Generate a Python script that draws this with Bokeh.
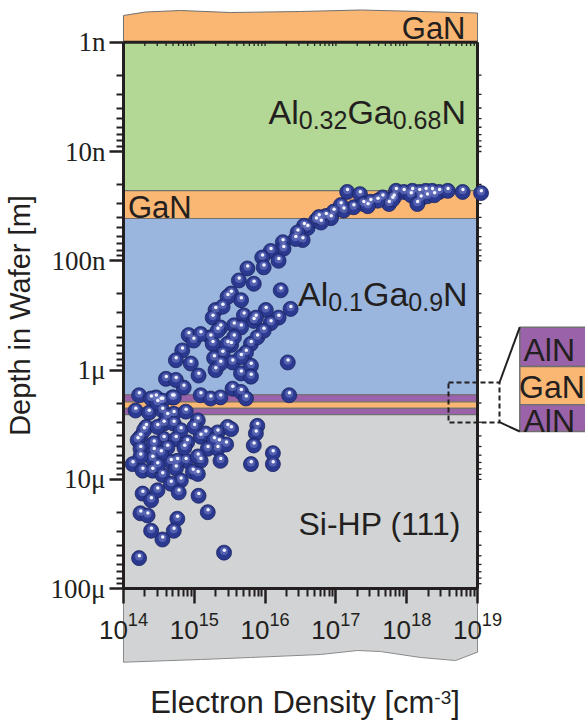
import numpy as np
from bokeh.plotting import figure
from bokeh.models import Range1d, FixedTicker
from bokeh.embed import file_html
from bokeh.resources import INLINE
from bokeh.core.properties import value

# ---------------- data ----------------
# log10 of electron density [cm^-3] and log10 of depth in wafer [m]
log10_density = [
    17.16, 17.34, 17.85, 17.96, 18.08, 18.18, 18.27, 18.36, 18.46, 18.58, 18.79, 19.05,
    17.82, 18.06, 18.20, 18.29, 18.39, 17.75, 18.15, 17.80, 17.66,
    16.53, 16.60, 16.72, 16.86, 16.97, 17.11, 17.25, 17.39, 17.49, 17.59, 17.07, 17.45, 16.93, 16.79,
    16.76, 16.55, 16.46, 16.43, 16.25, 16.26, 16.08, 16.19, 15.96, 15.98, 15.75, 15.63, 15.84, 15.52,
    16.22, 15.66, 16.01, 16.36, 16.19, 15.30, 15.26, 15.40, 15.70, 15.84, 15.56, 16.08,
    15.37, 15.23, 14.92, 14.99, 14.83, 14.74, 14.95, 15.06, 15.26, 15.52, 15.40, 15.28, 15.30, 15.54,
    15.80, 15.89, 15.98, 15.73, 15.66, 15.80, 15.80, 16.32, 16.34, 15.54, 15.66, 15.73, 15.09, 15.23,
    15.37, 14.85, 14.69, 14.60, 14.74, 14.53, 14.46,
    15.33, 15.47, 15.66, 15.47, 15.09, 15.87, 15.66, 15.56, 15.37,
    14.22, 14.17, 14.39, 14.36, 14.55, 14.55, 14.71, 14.71, 14.88, 14.32, 14.24, 14.20, 14.57, 15.05,
    15.33, 15.47, 15.35, 14.24, 14.43, 14.57, 14.74, 14.90, 15.09, 15.19, 15.33, 14.41, 14.67, 14.88,
    15.09, 15.37, 14.13, 14.27, 14.41, 14.55, 14.74, 14.98, 15.05,
    14.48, 14.62, 14.29, 14.48, 14.71, 14.81, 15.00, 15.16, 15.52, 14.43, 14.62, 14.86, 15.28, 14.24,
    14.53, 14.76, 15.05,
    14.48, 14.81, 15.80, 16.11, 14.27, 14.39, 14.48, 14.67, 14.78, 15.06, 15.19, 14.24, 14.34, 14.76,
    14.39, 14.71, 14.55, 15.42, 14.22,
    15.89, 15.87, 15.84, 16.11, 15.45,
]
log10_depth = [
    -7.63, -7.61, -7.64, -7.63, -7.64, -7.63, -7.64, -7.64, -7.63, -7.64, -7.63, -7.62,
    -7.58, -7.60, -7.57, -7.59, -7.60, -7.52, -7.52, -7.56, -7.58,
    -7.19, -7.30, -7.37, -7.41, -7.45, -7.46, -7.49, -7.52, -7.54, -7.55, -7.51, -7.50, -7.39, -7.35,
    -7.40, -7.32, -7.26, -7.20, -7.17, -7.11, -7.09, -7.00, -7.03, -6.94, -6.93, -6.82, -6.79, -6.70,
    -6.73, -6.64, -6.55, -6.56, -6.48, -6.55, -6.48, -6.58, -6.50, -6.45, -6.41, -6.43,
    -6.39, -6.30, -6.32, -6.27, -6.18, -6.09, -6.06, -5.95, -6.24, -6.23, -6.15, -6.11, -6.00, -6.07,
    -6.24, -6.30, -6.36, -6.16, -5.97, -6.04, -5.94, -6.07, -5.77, -5.83, -5.80, -5.74, -5.77, -5.74,
    -5.75, -5.84, -5.75, -5.92, -5.91, -5.72, -5.75,
    -6.36, -6.24, -6.12, -6.67, -6.33, -6.48, -6.39, -6.30, -6.06,
    -5.77, -5.63, -5.74, -5.61, -5.72, -5.63, -5.75, -5.60, -5.62, -5.48, -5.39, -5.36, -5.51, -5.54,
    -5.43, -5.48, -5.34, -5.28, -5.26, -5.37, -5.37, -5.34, -5.39, -5.28, -5.28, -5.19, -5.16, -5.17,
    -5.17, -5.17, -5.14, -5.08, -5.08, -5.04, -5.10, -5.07, -5.05,
    -5.70, -5.58, -5.45, -5.48, -5.51, -5.45, -5.48, -5.42, -5.46, -5.33, -5.29, -5.29, -5.36, -5.21,
    -5.24, -5.17, -5.21,
    -5.13, -4.99, -5.14, -5.14, -4.87, -4.81, -4.90, -4.96, -4.88, -4.85, -4.70, -4.69, -4.67, -4.64,
    -4.53, -4.53, -4.45, -4.33, -4.28,
    -5.49, -5.42, -5.31, -5.24, -5.32,
]

# wafer layers (depth in m)
layer_names = ["Al0.32Ga0.68N", "GaN", "Al0.1Ga0.9N", "AlN", "GaN", "AlN", "Si-HP (111)"]
layer_top = [1e-9, 2.28e-8, 4.10e-8, 1.68e-6, 1.95e-6, 2.24e-6, 2.55e-6]
layer_bottom = [2.28e-8, 4.10e-8, 1.68e-6, 1.95e-6, 2.24e-6, 2.55e-6, 1e-4]
cap_name = "GaN"

x_ticks = [1e14, 1e15, 1e16, 1e17, 1e18, 1e19]
y_ticks = [1e-9, 1e-8, 1e-7, 1e-6, 1e-5, 1e-4]
y_tick_labels = ["1n", "10n", "100n", "1μ", "10μ", "100μ"]

# ---------------- styling / layout ----------------
INK = "#231f20"
C_GAN, C_ALGAN32, C_ALGAN10, C_ALN, C_SI = "#fab673", "#b3d794", "#9ab5de", "#9a62a8", "#d1d3d4"
layer_colors = [C_ALGAN32, C_GAN, C_ALGAN10, C_ALN, C_GAN, C_ALN, C_SI]
EDGE = "#707070"
SANS = "Liberation Sans"
SERIF = "Liberation Serif"

FIG_W, FIG_H = 585, 722
AX_LEFT = 123                            # pixel column of 1e14
PX_X, PX_Y = 70.8, 109.3                 # pixels per decade
Y_TOP = -9.0 - 41.7 / PX_Y               # 1 nm sits 41.7 px below the top
Y_BOT = Y_TOP + FIG_H / PX_Y
BASE_FIX = 0.3                            # text baseline correction (em)


def xd(X):  # pixel -> data x (for placing decorations / texts)
    return 10 ** (14.0 + (X - AX_LEFT) / PX_X)


def yd(Y):  # pixel -> data y
    return 10 ** (Y_TOP + Y / PX_Y)


p = figure(width=FIG_W, height=FIG_H, x_axis_type="log", y_axis_type="log",
           x_range=Range1d(xd(0), xd(FIG_W)),
           y_range=Range1d(10 ** Y_BOT, 10 ** Y_TOP),
           output_backend="svg", toolbar_location=None,
           min_border_left=0, min_border_right=0, min_border_top=0, min_border_bottom=0)
p.outline_line_color = None
p.grid.visible = False
p.background_fill_color = "white"
p.border_fill_color = "white"

XL, XR = x_ticks[0], x_ticks[-1]
x_minor = [m * t for t in x_ticks[:-1] for m in range(2, 10)]
y_minor = [m * t for t in y_ticks[:-1] for m in range(2, 10)]

# top GaN cap with a wavy upper edge
cap_X = [145, 180, 230, 300, 360, 420]
cap_Y = [11.5, 10.0, 12.0, 11.0, 9.5, 11.0]
cap_xs = [XL] + [xd(v) for v in cap_X] + [XR, XR, XL]
cap_ys = [yd(15)] + [yd(v) for v in cap_Y] + [yd(12.5), y_ticks[0], y_ticks[0]]
p.patch(cap_xs, cap_ys, fill_color=C_GAN, line_color=EDGE, line_width=1)

# Si substrate continuing below the axis (wavy lower edge)
bot_X = [455, 420, 380, 357, 320, 250, 200]
bot_Y = [660, 657, 651, 650, 654, 657, 659]
si_xs = [XL, XR, XR] + [xd(v) for v in bot_X] + [XL]
si_ys = [y_ticks[-1], y_ticks[-1], yd(651.7)] + [yd(v) for v in bot_Y] + [yd(661.7)]
p.patch(si_xs, si_ys, fill_color=C_SI, line_color="#8a8a8a", line_width=1)

# layers
p.quad(left=[XL] * len(layer_top), right=[XR] * len(layer_top), top=layer_top,
       bottom=layer_bottom, fill_color=layer_colors, line_color=EDGE, line_width=1.2)

# frame: top line at 1 nm and right line at 1e19, with small ticks
p.segment(x0=[XL, XR], y0=[y_ticks[0], y_ticks[0]], x1=[XR, XR], y1=[y_ticks[0], y_ticks[-1]],
          line_color=INK, line_width=3)
top_t = x_ticks[1:-1] + x_minor
p.segment(x0=top_t, y0=[y_ticks[0]] * len(top_t), x1=top_t, y1=[yd(45.5)] * len(top_t),
          line_color=INK, line_width=1.3)
right_t = y_ticks[1:-1] + y_minor
p.segment(x0=[XR] * len(right_t), y0=right_t, x1=[xd(481)] * len(right_t), y1=right_t,
          line_color=INK, line_width=1.3)

# inset showing the AlN / GaN / AlN stack
ins_l, ins_r = xd(519.3), xd(600)
ins_edges = [yd(326.7), yd(366), yd(404.3), yd(431)]
p.quad(left=[ins_l] * 3, right=[ins_r] * 3, top=ins_edges[:3], bottom=ins_edges[1:],
       fill_color=[C_ALN, C_GAN, C_ALN], line_color=EDGE, line_width=1.5)
p.quad(left=[xd(448)], right=[xd(499)], top=[yd(382)], bottom=[yd(422)], fill_color=None,
       line_color=INK, line_width=2, line_dash="5 3")
p.segment(x0=[xd(499), xd(499)], y0=[yd(382), yd(421.7)], x1=[xd(519.3), xd(519.3)],
          y1=[yd(326.7), yd(431)], line_color=INK, line_width=2)

# scatter as shaded spheres
xs = 10 ** np.array(log10_density)
ys = 10 ** np.array(log10_depth)
p.scatter(xs, ys, size=15, fill_color="#2b3990", line_color="#1b2460", line_width=0.8)
p.scatter(xs, ys * 10 ** (-1.6 / PX_Y), size=8, fill_color="#7d8ad0", fill_alpha=0.5,
          line_color=None)
p.scatter(xs * 10 ** (0.3 / PX_X), ys * 10 ** (-2.4 / PX_Y), size=3.5, fill_color="#f2f4ff",
          line_color=None)

# ---------------- texts ----------------
AW = {'A': .667, 'l': .222, 'G': .778, 'a': .556, 'N': .722, '.': .278, 'S': .667, 'i': .222,
      '-': .333, 'H': .722, 'P': .667, ' ': .278, '(': .333, ')': .333, 'E': .667, 'e': .556,
      'c': .5, 't': .278, 'r': .333, 'o': .556, 'n': .556, 'D': .722, 's': .5, 'y': .5,
      '[': .278, ']': .278, 'm': .833}
for d in "0123456789":
    AW[d] = .556


def tw(s, size):
    return sum(AW[c] for c in s) * size


def rich(parts, X, Y):
    cx = X
    for txt, size, dy in parts:
        p.text(x=[xd(cx)], y=[yd(Y + dy - BASE_FIX * size)], text=[txt], text_font=value(SANS),
               text_font_size=f"{size}px", text_baseline="alphabetic", text_align="left",
               text_color=INK)
        cx += tw(txt, size)


MAIN, SUB = 34, 25
rich([(cap_name, 31, 0)], 465 - tw(cap_name, 31), 37.5)
rich([("Al", MAIN, 0), ("0.32", SUB, 5), ("Ga", MAIN, 0), ("0.68", SUB, 5), ("N", MAIN, 0)],
     268, 121.7)
rich([("GaN", 31, 0)], 127.5, 216)
rich([("Al", MAIN, 0), ("0.1", SUB, 5), ("Ga", MAIN, 0), ("0.9", SUB, 5), ("N", MAIN, 0)],
     297.5, 304)
rich([("Si-HP (111)", 32, 0)], 298, 533.3)
rich([("AlN", 32, 0)], 523, 359.3)
rich([("GaN", 32, 0)], 518.5, 396)
rich([("AlN", 32, 0)], 523, 430)

# x-axis title with superscript
XT, XS = 31, 19
xt_parts = [("Electron Density [cm", XT, 0), ("-3", XS, -8.5), ("]", XT, 0)]
xt_w = sum(tw(t, s) for t, s, _ in xt_parts)
rich(xt_parts, 304.5 - xt_w / 2, 711)

# ---------------- axes ----------------
xa = p.xaxis[0]
ya = p.yaxis[0]
xa.ticker = FixedTicker(ticks=x_ticks, minor_ticks=x_minor)
ya.ticker = FixedTicker(ticks=y_ticks, minor_ticks=y_minor)
xa.bounds = (XL, XR)
ya.bounds = (y_ticks[0], y_ticks[-1])
xa.fixed_location = y_ticks[-1]
ya.fixed_location = XL
ya.major_label_overrides = dict(zip(y_ticks, y_tick_labels))

for ax in (xa, ya):
    ax.level = "overlay"
    ax.axis_line_width = 3
    ax.axis_line_color = INK
    ax.major_tick_line_width = 2.5
    ax.major_tick_line_color = INK
    ax.minor_tick_line_width = 2
    ax.minor_tick_line_color = INK
    ax.major_tick_in = 0
    ax.minor_tick_in = 0
    ax.major_label_text_color = INK
xa.major_tick_out = 15
xa.minor_tick_out = 8
ya.major_tick_out = 14
ya.minor_tick_out = 7

xa.major_label_text_font = SANS
xa.major_label_text_font_size = "26px"
xa.major_label_standoff = 8
ya.major_label_text_font = SERIF
ya.major_label_text_font_size = "27px"
ya.major_label_standoff = 4
ya.axis_label = "Depth in Wafer [m]"
ya.axis_label_text_font = SANS
ya.axis_label_text_font_size = "29px"
ya.axis_label_text_font_style = "normal"
ya.axis_label_text_color = INK
ya.axis_label_standoff = 12

open("out.html", "w").write(file_html(p, INLINE))
